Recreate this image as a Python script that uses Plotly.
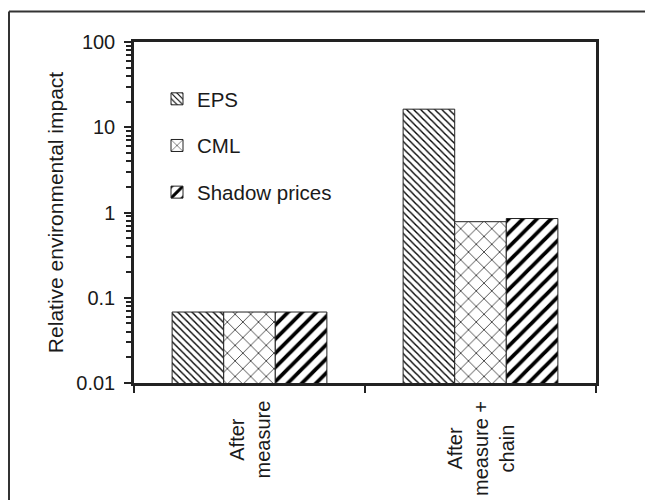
import plotly.graph_objects as go

categories = ["After measure", "After measure + chain"]
category_labels = ["After<br>measure", "After<br>measure +<br>chain"]
series_names = ["EPS", "CML", "Shadow prices"]
eps_values = [0.068, 16.3]
cml_values = [0.068, 0.78]
shadow_values = [0.068, 0.85]
ytick_vals = [0.01, 0.1, 1, 10, 100]
ytick_text = ["0.01", "0.1", "1", "10", "100"]
minor_digits = [2, 3, 4, 5, 6, 7, 8, 9]

W, H = 645, 500
ML, MR, MT, MB = 134, 49, 42, 117
PW, PH = W - ML - MR, H - MT - MB

def px_x(x):
    return (x - ML) / PW

def px_y(y):
    return (H - MB - y) / PH

FONT = "Liberation Sans, Arial, sans-serif"
TXT = "#1a1a1a"

patterns = [
    dict(shape="\\", size=5, solidity=0.28, fgcolor="black", bgcolor="white",
         fgopacity=1, fillmode="overlay"),
    dict(shape="x", size=11, solidity=0.12, fgcolor="black", bgcolor="white",
         fgopacity=1, fillmode="overlay"),
    dict(shape="/", size=10, solidity=0.38, fgcolor="black", bgcolor="white",
         fgopacity=1, fillmode="overlay"),
]

fig = go.Figure()
for name, vals, pat in zip(series_names, [eps_values, cml_values, shadow_values], patterns):
    fig.add_trace(go.Bar(
        x=categories, y=vals, name=name, legendgroup=name,
        marker=dict(color="white", pattern=pat, line=dict(color="#222", width=1)),
    ))

annotations = []
for cat, lab in zip(categories, category_labels):
    annotations.append(dict(
        x=cat, xref="x", y=px_y(399), yref="paper", text=lab, showarrow=False,
        textangle=-90, xanchor="center", yanchor="top", align="center",
        font=dict(family=FONT, size=20, color=TXT),
    ))

minor_vals = [d * t for t in ytick_vals[:-1] for d in minor_digits]

fig.update_layout(
    width=W, height=H,
    margin=dict(l=ML, r=MR, t=MT, b=MB),
    paper_bgcolor="white", plot_bgcolor="white",
    barmode="group", bargap=0.33, bargroupgap=0,
    font=dict(family=FONT, size=20, color=TXT),
    showlegend=True,
    legend=dict(x=px_x(157), y=px_y(79), xanchor="left", yanchor="top",
                bgcolor="rgba(0,0,0,0)", font=dict(size=20.5),
                tracegroupgap=17, itemwidth=30),
    xaxis=dict(type="category", showline=True, linecolor="#222", linewidth=2.5,
               mirror=True, ticks="outside", tickson="boundaries", ticklen=7,
               tickwidth=2, tickcolor="#222", showticklabels=False, showgrid=False),
    yaxis=dict(type="log", range=[-2, 2], showline=True, linecolor="#222", linewidth=2.5,
               mirror=True, ticks="outside", ticklen=7, tickwidth=2, tickcolor="#222",
               tickmode="array", tickvals=ytick_vals, ticktext=ytick_text, showgrid=False,
               tickfont=dict(size=20), ticklabelstandoff=5,
               minor=dict(ticks="outside", ticklen=5, tickwidth=1.5, tickcolor="#222",
                          tickmode="array", tickvals=minor_vals, showgrid=False),
               title=dict(text="Relative environmental impact", font=dict(size=21),
                          standoff=7)),
    annotations=annotations,
    shapes=[
        dict(type="line", xref="paper", yref="paper", x0=px_x(9), x1=px_x(9),
             y0=px_y(510), y1=px_y(11.5), line=dict(color="#333", width=2)),
        dict(type="line", xref="paper", yref="paper", x0=px_x(9), x1=px_x(660),
             y0=px_y(11.5), y1=px_y(11.5), line=dict(color="#333", width=2)),
    ],
)

fig.write_html("out.html", config={"displayModeBar": False},
               post_script="document.body.style.margin='0';")
